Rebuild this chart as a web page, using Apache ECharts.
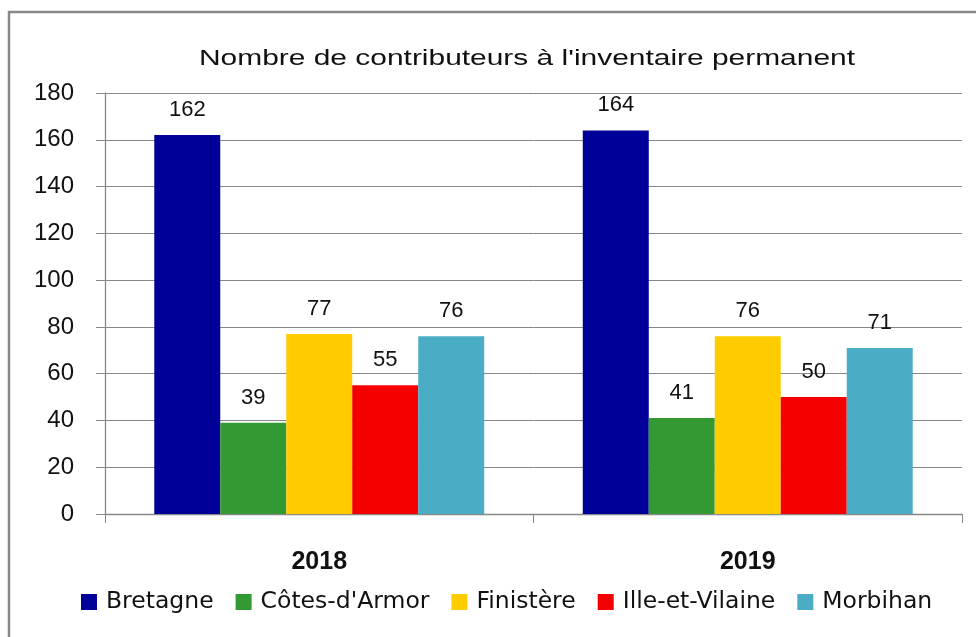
<!DOCTYPE html>
<html>
<head>
<meta charset="utf-8">
<script src="https://cdn.jsdelivr.net/npm/echarts@6/dist/echarts.min.js"></script>
<style>html,body{margin:0;padding:0;background:#fff;}#chart{width:976px;height:637px;}</style>
</head>
<body>
<div id="chart"></div>
<script>
const title = "Nombre de contributeurs à l'inventaire permanent";
const categories = ['2018', '2019'];
const seriesNames = ['Bretagne', "Côtes-d'Armor", 'Finistère', 'Ille-et-Vilaine', 'Morbihan'];
const bretagne = [162, 164];
const cotesArmor = [39, 41];
const finistere = [77, 76];
const illeEtVilaine = [55, 50];
const morbihan = [76, 71];
const colors = ['#000099', '#339933', '#FFCC00', '#F50000', '#4BACC6'];
const yTicks = [0, 20, 40, 60, 80, 100, 120, 140, 160, 180];

const values = [bretagne, cotesArmor, finistere, illeEtVilaine, morbihan];
const font = 'Liberation Sans';

const chart = echarts.init(document.getElementById('chart'));
chart.setOption({
  animation: false,
  color: colors,
  graphic: [{
    type: 'rect', shape: {x: 9, y: 12, width: 1100, height: 700},
    style: {fill: 'none', stroke: '#888', lineWidth: 2.5}, silent: true
  }, {
    type: 'text', x: 527, y: 59, scaleX: 1.36, scaleY: 1,
    style: {text: title, x: 0, y: 0, align: 'center', verticalAlign: 'middle',
      font: 'normal 22px "Liberation Sans"', fill: '#111'},
    silent: true
  }],
  legend: {
    bottom: 18, left: 76, itemWidth: 16, itemHeight: 16, itemGap: 22,
    icon: 'rect',
    textStyle: {fontFamily: 'DejaVu Sans', fontSize: 23.5, color: '#111', padding: [0, 0, 0, 4]},
    data: seriesNames
  },
  grid: {left: 105, right: 14, top: 93, bottom: 123},
  xAxis: {
    type: 'category', data: categories,
    axisLine: {lineStyle: {color: '#888', width: 1.3}},
    axisTick: {show: true, length: 9, lineStyle: {color: '#888'}},
    axisLabel: {fontFamily: font, fontSize: 25, fontWeight: 'bold', color: '#111', margin: 36}
  },
  yAxis: {
    type: 'value', min: 0, max: 180, interval: 20,
    axisLine: {show: true, lineStyle: {color: '#888', width: 1.3}},
    axisTick: {show: true, length: 9, lineStyle: {color: '#888'}},
    splitLine: {lineStyle: {color: '#888', width: 1}},
    axisLabel: {fontFamily: font, fontSize: 24, color: '#111', margin: 31,
      formatter: v => yTicks.includes(v) ? String(v) : ''}
  },
  series: seriesNames.map((name, i) => ({
    name: name, type: 'bar', data: values[i],
    barGap: '0%', barCategoryGap: '23%',
    label: {show: true, position: 'top', distance: 14,
      fontFamily: font, fontSize: 22, color: '#111'}
  }))
});
</script>
</body>
</html>
